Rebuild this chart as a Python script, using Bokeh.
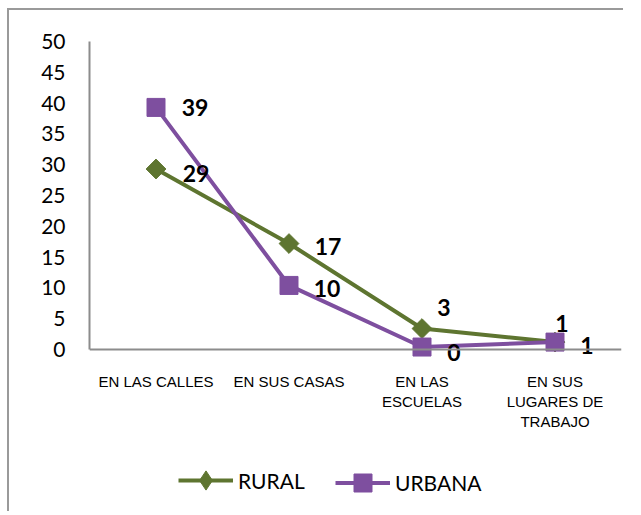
from bokeh.plotting import figure
from bokeh.models import Range1d, FixedTicker, Legend, LegendItem, ColumnDataSource, Span
from bokeh.core.properties import value
from bokeh.embed import file_html
from bokeh.resources import INLINE

categories = ["EN LAS CALLES", "EN SUS CASAS", "EN LAS\nESCUELAS", "EN SUS\nLUGARES DE\nTRABAJO"]
rural = [29.3, 17.2, 3.4, 1.2]
urbana = [39.3, 10.4, 0.4, 1.2]
rural_labels = ["29", "17", "3", "1"]
urbana_labels = ["39", "10", "0", "1"]
y_ticks = [0, 5, 10, 15, 20, 25, 30, 35, 40, 45, 50]

GREEN = "#5E7530"
PURPLE = "#7E4F9F"
AXIS = "#8C8C8C"

xs = list(range(len(categories)))

FRAME_H = 464
PX_PER_UNIT = 308 / 50.0
y_start = 50 - FRAME_H / PX_PER_UNIT

p = figure(width=616, height=503, output_backend="svg", toolbar_location=None,
           x_range=Range1d(-0.5, len(categories) - 0.5), y_range=Range1d(y_start, 50),
           min_border_left=80, min_border_top=31, min_border_right=4, min_border_bottom=8)
p.styles = {"border-top": "2px solid #9A9A9A", "border-left": "2px solid #9A9A9A",
            "margin-left": "7px", "margin-top": "8px"}
p.outline_line_color = None
p.xgrid.visible = False
p.ygrid.visible = False
p.xaxis.visible = False

p.yaxis.ticker = FixedTicker(ticks=y_ticks)
p.yaxis.bounds = (0, 50)
p.yaxis.axis_line_color = AXIS
p.yaxis.axis_line_width = 2
p.yaxis.major_tick_line_color = None
p.yaxis.minor_tick_line_color = None
p.yaxis.major_tick_out = 0
p.yaxis.major_tick_in = 0
p.yaxis.major_label_standoff = 24
p.yaxis.major_label_text_font = "Lato"
p.yaxis.major_label_text_font_size = "21px"
p.yaxis.major_label_text_color = "black"

# category axis drawn at y = 0
p.add_layout(Span(location=0, dimension="width", line_color=AXIS, line_width=2))
csrc = ColumnDataSource(dict(x=xs, y=[0] * len(xs), t=categories))
p.text(x="x", y="y", text="t", source=csrc, y_offset=23,
       text_align="center", text_baseline="top", text_line_height=1.2,
       text_font=value("Liberation Sans"), text_font_size="15px", text_color="black")

r_line = p.line(xs, rural, line_color=GREEN, line_width=4)
r_mark = p.scatter(xs, rural, marker="square", angle=0.785398, size=14,
                   fill_color=GREEN, line_color=GREEN)
u_line = p.line(xs, urbana, line_color=PURPLE, line_width=4)
u_mark = p.scatter(xs, urbana, marker="square", size=18,
                   fill_color=PURPLE, line_color=PURPLE)
# legend-only diamond symbol (legend glyphs are never rotated); size 0 in the plot
r_key = p.scatter(xs, rural, marker="diamond", size=0, fill_color=GREEN, line_color=GREEN)

rsrc = ColumnDataSource(dict(x=xs, y=rural, t=rural_labels,
                             dx=[40, 39, 22, 7], dy=[4, 3, -21, -19]))
usrc = ColumnDataSource(dict(x=xs, y=urbana, t=urbana_labels,
                             dx=[39, 38, 32, 32], dy=[0, 3, 5, 3]))
for src in (rsrc, usrc):
    p.text(x="x", y="y", text="t", source=src, x_offset="dx", y_offset="dy",
           text_align="center", text_baseline="middle",
           text_font=value("Lato"), text_font_style="bold",
           text_font_size="23px", text_color="black")

legend_style = dict(orientation="horizontal", glyph_width=55,
                    label_standoff=5, padding=0, margin=0,
                    border_line_color=None, background_fill_alpha=0,
                    label_text_font="Lato", label_text_font_size="21px",
                    label_text_color="black")
legend_r = Legend(items=[LegendItem(label="RURAL", renderers=[r_line, r_key])],
                  location=(89, 1), glyph_height=48, label_height=48, **legend_style)
legend_u = Legend(items=[LegendItem(label="URBANA", renderers=[u_line, u_mark])],
                  location=(246, 0), glyph_height=45, label_height=45, **legend_style)
p.add_layout(legend_r)
p.add_layout(legend_u)

open("out.html", "w").write(file_html(p, INLINE))
